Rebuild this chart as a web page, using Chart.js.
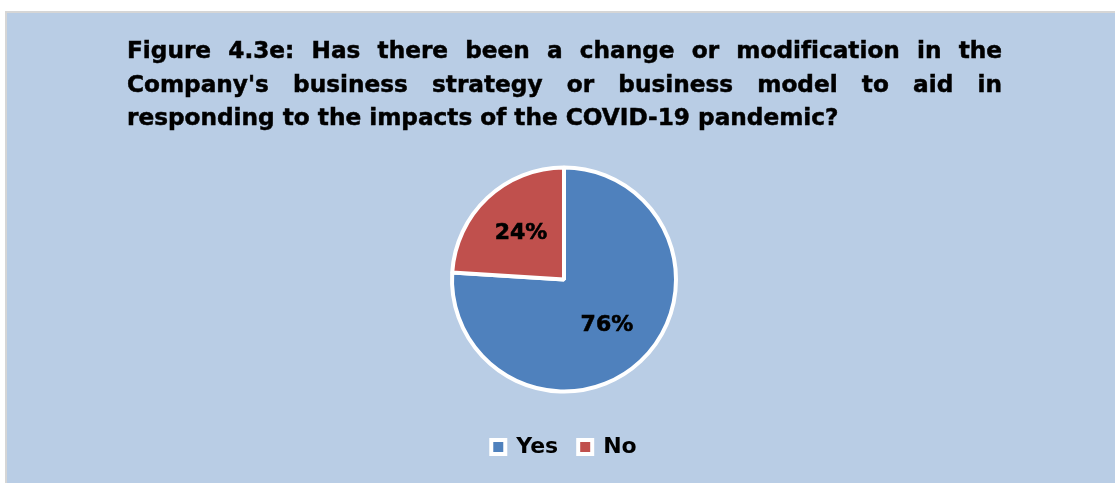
<!DOCTYPE html>
<html>
<head>
<meta charset="utf-8">
<title>Figure 4.3e</title>
<script src="https://cdn.jsdelivr.net/npm/chart.js@4/dist/chart.umd.min.js"></script>
<style>
  html, body { margin: 0; padding: 0; background: #ffffff; width: 1116px; height: 483px; overflow: hidden; }
  #panel {
    position: absolute; left: 5px; top: 11px; width: 1110px; height: 480px;
    background: #B9CDE5; border-left: 2px solid #D6D6D6; border-top: 2px solid #D6D6D6;
    box-sizing: border-box;
  }
  #title {
    position: absolute; left: 127px; top: 33px; width: 875px; z-index: 2;
    font: bold 23.2px/33.5px "DejaVu Sans", Verdana, sans-serif; color: #000000;
    font-variant-ligatures: none; font-feature-settings: "liga" 0;
    -webkit-text-stroke: 0.5px #000000;
  }
  #title .line { text-align: justify; text-align-last: justify; }
  #title .line.last { text-align: left; text-align-last: left; white-space: nowrap; }
  #wrap { position: absolute; left: 0; top: 0; width: 1116px; height: 483px; z-index: 1; }
</style>
</head>
<body>
<div id="panel"></div>
<div id="title"></div>
<div id="wrap"><canvas id="chart"></canvas></div>
<script>
// Survey answers and their shares (percent)
const categories = ['Yes', 'No'];
const shares = [76, 24];
const sliceColors = ['#4F81BD', '#C0504D'];

// Heading, one entry per printed line
const titleLines = [
  'Figure 4.3e: Has there been a change or modification in the',
  "Company's business strategy or business model to aid in",
  'responding to the impacts of the COVID-19 pandemic?'
];

const titleBox = document.getElementById('title');
titleLines.forEach((text, i) => {
  const div = document.createElement('div');
  div.className = 'line' + (i === titleLines.length - 1 ? ' last' : '');
  div.textContent = text;
  titleBox.appendChild(div);
});

const FONT = '"DejaVu Sans", Verdana, sans-serif';

// Percentage labels written inside each slice
const sliceLabels = {
  id: 'sliceLabels',
  afterDatasetsDraw(chart) {
    const ctx = chart.ctx;
    const meta = chart.getDatasetMeta(0);
    const values = chart.data.datasets[0].data;
    ctx.save();
    ctx.font = 'bold 22px ' + FONT;
    ctx.fillStyle = '#000000';
    ctx.strokeStyle = '#000000';
    ctx.lineWidth = 0.6;
    ctx.textAlign = 'center';
    ctx.textBaseline = 'middle';
    meta.data.forEach((arc, i) => {
      const p = arc.getProps(['x', 'y', 'startAngle', 'endAngle', 'outerRadius'], true);
      const mid = (p.startAngle + p.endAngle) / 2;
      const r = p.outerRadius * 0.56;
      const tx = p.x + Math.cos(mid) * r;
      const ty = p.y + Math.sin(mid) * r;
      ctx.fillText(values[i] + '%', tx, ty);
      ctx.strokeText(values[i] + '%', tx, ty);
    });
    ctx.restore();
  }
};

new Chart(document.getElementById('chart'), {
  type: 'pie',
  data: {
    labels: categories,
    datasets: [{
      data: shares,
      backgroundColor: sliceColors,
      borderColor: '#FFFFFF',
      borderWidth: 4,
      radius: 112
    }]
  },
  options: {
    responsive: true,
    maintainAspectRatio: false,
    devicePixelRatio: 1,
    animation: false,
    events: [],
    layout: { padding: { left: 12, right: 0, top: 143, bottom: 15 } },
    plugins: {
      title: { display: false },
      tooltip: { enabled: false },
      legend: {
        position: 'bottom',
        labels: {
          boxWidth: 14,
          boxHeight: 14,
          padding: 20,
          color: '#000000',
          font: { family: FONT, size: 22, weight: 'bold' }
        }
      }
    }
  },
  plugins: [sliceLabels]
});
</script>
</body>
</html>
